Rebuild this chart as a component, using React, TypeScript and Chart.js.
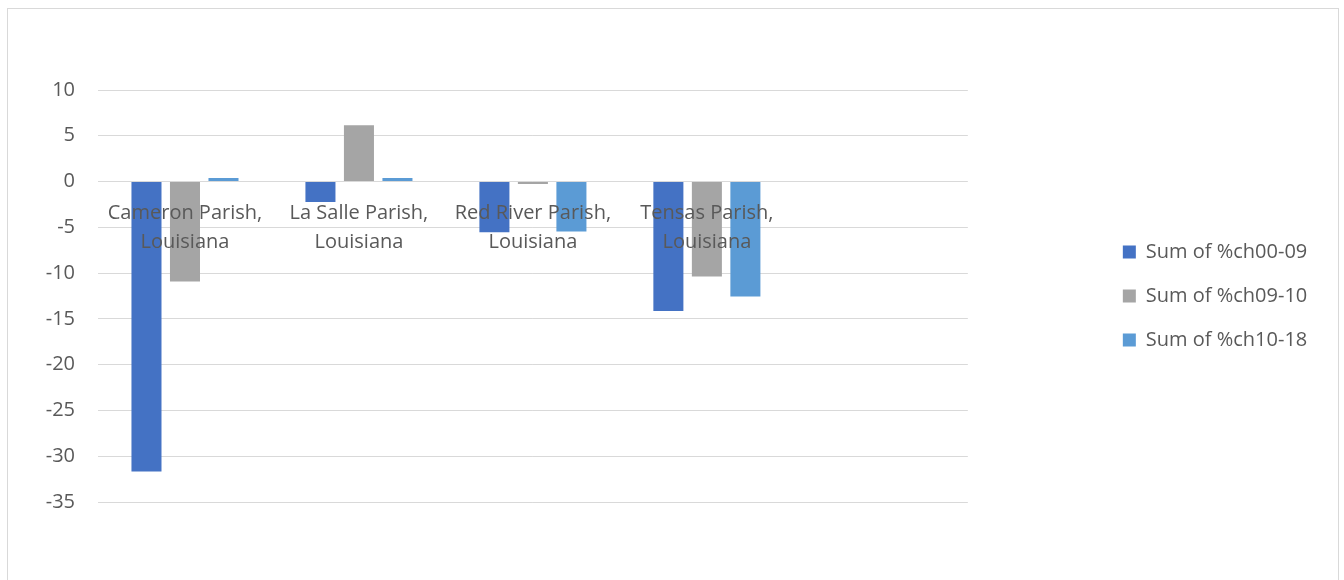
import { useEffect, useRef } from "react";
import { Chart, registerables } from "chart.js";

Chart.register(...registerables);

// Parish names (two-line tick labels); the last slot is an empty category
const categories: (string | string[])[] = [
  ["Cameron Parish,", "Louisiana"],
  ["La Salle Parish,", "Louisiana"],
  ["Red River Parish,", "Louisiana"],
  ["Tensas Parish,", "Louisiana"],
  "",
];

const seriesNames = ["Sum of %ch00-09", "Sum of %ch09-10", "Sum of %ch10-18"];

const ch00to09 = [-31.67, -2.22, -5.53, -14.15, null];
const ch09to10 = [-10.92, 6.16, -0.28, -10.38, null];
const ch10to18 = [0.4, 0.38, -5.46, -12.56, null];

const seriesColors = ["#4472C4", "#A5A5A5", "#5B9BD5"];

const yMin = -35;
const yMax = 10;
const yStep = 5;

const FONT = "'Open Sans', 'Noto Sans', sans-serif";
const FONT_SIZE = 20;
const TEXT = "#595959";
const GRID = "#D9D9D9";

export default function App() {
  const canvasRef = useRef<HTMLCanvasElement | null>(null);

  useEffect(() => {
    if (!canvasRef.current) return;
    const values = [ch00to09, ch09to10, ch10to18];
    const chart = new Chart(canvasRef.current, {
      type: "bar",
      data: {
        labels: categories,
        datasets: seriesNames.map((name, i) => ({
          label: name,
          data: values[i],
          backgroundColor: seriesColors[i],
          borderWidth: 0,
          categoryPercentage: 0.664,
          barPercentage: 0.78,
        })),
      },
      options: {
        animation: false,
        responsive: true,
        maintainAspectRatio: false,
        layout: { padding: { top: 81, bottom: 78, left: 0, right: 21 } },
        plugins: {
          tooltip: { enabled: false },
          legend: {
            position: "right",
            fullSize: false,
            align: "center",
            labels: {
              boxWidth: 13,
              boxHeight: 13,
              padding: 24,
              color: TEXT,
              font: { family: FONT, size: FONT_SIZE },
            },
          },
        },
        scales: {
          x: {
            // category labels sit on the zero line, painted over the bars
            position: { y: 0 },
            grid: { display: false, drawTicks: false },
            border: { display: false },
            ticks: {
              z: 1,
              color: TEXT,
              padding: 17,
              maxRotation: 0,
              autoSkip: false,
              font: { family: FONT, size: FONT_SIZE, lineHeight: 1.465 },
            },
          },
          y: {
            min: yMin,
            max: yMax,
            grid: { color: GRID, lineWidth: 1, drawTicks: false },
            border: { display: false },
            ticks: {
              stepSize: yStep,
              color: TEXT,
              padding: 23,
              font: { family: FONT, size: FONT_SIZE },
            },
            afterFit: (scale: any) => {
              scale.width = 90;
            },
          },
          spacer: {
            type: "linear",
            position: "right",
            display: true,
            grid: { display: false, drawTicks: false },
            border: { display: false },
            ticks: { display: false },
            afterFit: (scale: any) => {
              scale.width = 131;
            },
          },
        },
      },
    } as any);
    return () => chart.destroy();
  }, []);

  return (
    <div
      style={{
        position: "fixed",
        left: 7,
        top: 8,
        width: 1332,
        height: 640,
        border: "1px solid #D9D9D9",
        boxSizing: "border-box",
        background: "#FFFFFF",
      }}
    >
      <div style={{ position: "absolute", left: 0, top: 0, width: 1330, height: 571 }}>
        <canvas ref={canvasRef} />
      </div>
    </div>
  );
}
